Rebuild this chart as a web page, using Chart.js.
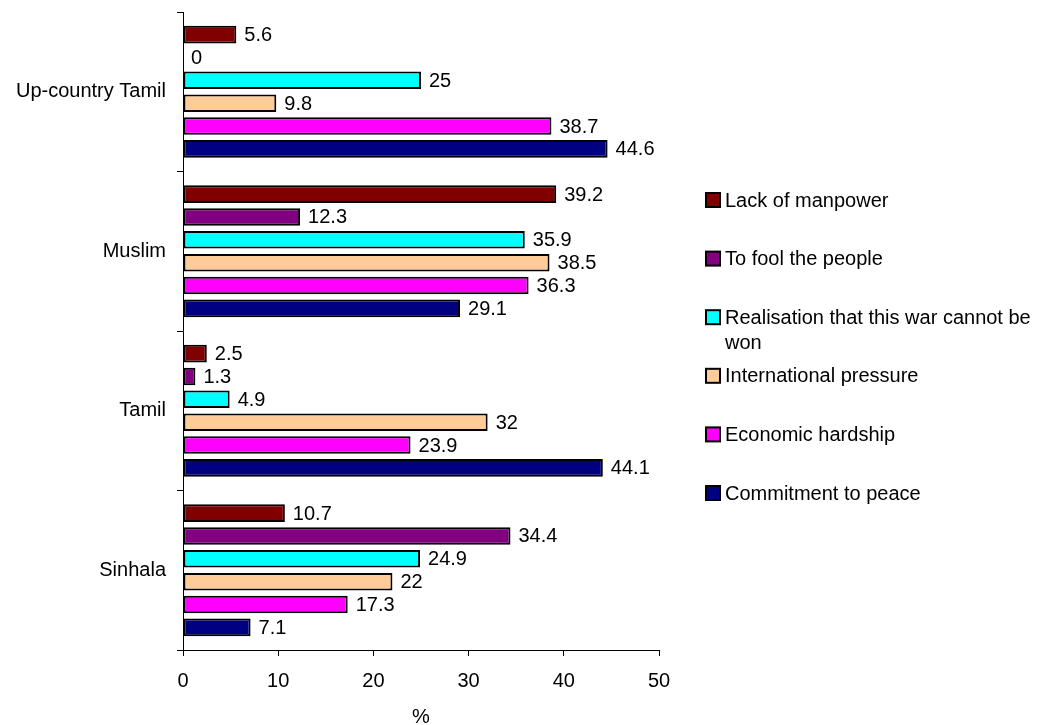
<!DOCTYPE html>
<html>
<head>
<meta charset="utf-8">
<script src="https://cdn.jsdelivr.net/npm/chart.js@4.4.0/dist/chart.umd.min.js"></script>
<style>
  html, body { margin: 0; padding: 0; background: #fff; }
</style>
</head>
<body>
<canvas id="myChart" width="1040" height="725"></canvas>
<script>
// categories, top to bottom
const groups = ['Up-country Tamil', 'Muslim', 'Tamil', 'Sinhala'];

// series values, one per group
const lackOfManpower = [5.6, 39.2, 2.5, 10.7];
const foolThePeople = [0, 12.3, 1.3, 34.4];
const warCannotBeWon = [25, 35.9, 4.9, 24.9];
const internationalPressure = [9.8, 38.5, 32, 22];
const economicHardship = [38.7, 36.3, 23.9, 17.3];
const commitmentToPeace = [44.6, 29.1, 44.1, 7.1];

const seriesNames = [
    'Lack of manpower',
    'To fool the people',
    'Realisation that this war cannot be won',
    'International pressure',
    'Economic hardship',
    'Commitment to peace'
];
const seriesValues = [lackOfManpower, foolThePeople, warCannotBeWon, internationalPressure, economicHardship, commitmentToPeace];
const seriesColors = ['#800000', '#800080', '#00FFFF', '#FFCC99', '#FF00FF', '#000080'];

const xMin = 0;
const xMax = 50;
const xStep = 10;
const xTitle = '%';

const FONT = '"Liberation Sans", Arial, sans-serif';
Chart.defaults.font.family = FONT;
Chart.defaults.font.size = 20;
Chart.defaults.color = '#000';

// value labels at the end of each bar
const barValues = {
    id: 'barValues',
    afterDatasetsDraw(chart) {
        const ctx = chart.ctx;
        ctx.save();
        ctx.font = '20px ' + FONT;
        ctx.fillStyle = '#000';
        ctx.textAlign = 'left';
        ctx.textBaseline = 'middle';
        chart.data.datasets.forEach((ds, i) => {
            chart.getDatasetMeta(i).data.forEach((bar, j) => {
                ctx.fillText(String(ds.data[j]), bar.x + 8, bar.y + 1);
            });
        });
        ctx.restore();
    }
};

// legend on the right, text wrapped like the original
const sideLegend = {
    id: 'sideLegend',
    afterDraw(chart) {
        const ctx = chart.ctx;
        const boxX = 706, textX = 725, maxW = 1040 - textX - 2;
        ctx.save();
        ctx.font = '20px ' + FONT;
        ctx.textAlign = 'left';
        ctx.textBaseline = 'middle';
        chart.data.datasets.forEach((ds, i) => {
            const y = 200 + i * 58.6;
            ctx.fillStyle = ds.backgroundColor;
            ctx.fillRect(boxX, y - 7, 14, 14);
            ctx.lineWidth = 2;
            ctx.strokeStyle = '#000';
            ctx.strokeRect(boxX, y - 7, 14, 14);

            ctx.fillStyle = '#000';
            const words = ds.label.split(' ');
            let line = '', ly = y + 1;
            words.forEach(w => {
                const test = line ? line + ' ' + w : w;
                if (line && ctx.measureText(test).width > maxW) {
                    ctx.fillText(line, textX, ly);
                    line = w;
                    ly += 25;
                } else {
                    line = test;
                }
            });
            ctx.fillText(line, textX, ly);
        });
        ctx.restore();
    }
};

const ctx = document.getElementById('myChart');

const chart = new Chart(ctx, {
    type: 'bar',
    data: {
        labels: groups,
        datasets: seriesNames.map((name, i) => ({
            label: name,
            data: seriesValues[i],
            backgroundColor: seriesColors[i],
            borderColor: '#000',
            borderWidth: 2,
            borderSkipped: false,
            categoryPercentage: 0.86,
            barPercentage: 0.77
        }))
    },
    options: {
        indexAxis: 'y',
        responsive: false,
        animation: false,
        devicePixelRatio: 1,
        layout: {
            padding: { top: 12, right: 381, bottom: 0, left: 0 }
        },
        plugins: {
            legend: { display: false },
            tooltip: { enabled: false }
        },
        scales: {
            x: {
                min: xMin,
                max: xMax,
                ticks: { stepSize: xStep, padding: 13, font: { size: 20 } },
                grid: { drawOnChartArea: false, drawTicks: true, tickLength: 6, color: '#000' },
                border: { color: '#000', width: 1 },
                title: { display: true, text: xTitle, font: { size: 20 }, padding: { top: 0, bottom: -4 } },
                afterFit(scale) { scale.height = 75; }
            },
            y: {
                ticks: { padding: 11, font: { size: 20 } },
                grid: { drawOnChartArea: false, drawTicks: true, tickLength: 6, offset: true, color: '#000' },
                border: { color: '#000', width: 1 },
                afterFit(scale) {
                    scale.width = 183;
                    scale.paddingTop = 0;
                    scale.paddingBottom = 0;
                }
            }
        }
    },
    plugins: [barValues, sideLegend]
});
</script>
</body>
</html>
